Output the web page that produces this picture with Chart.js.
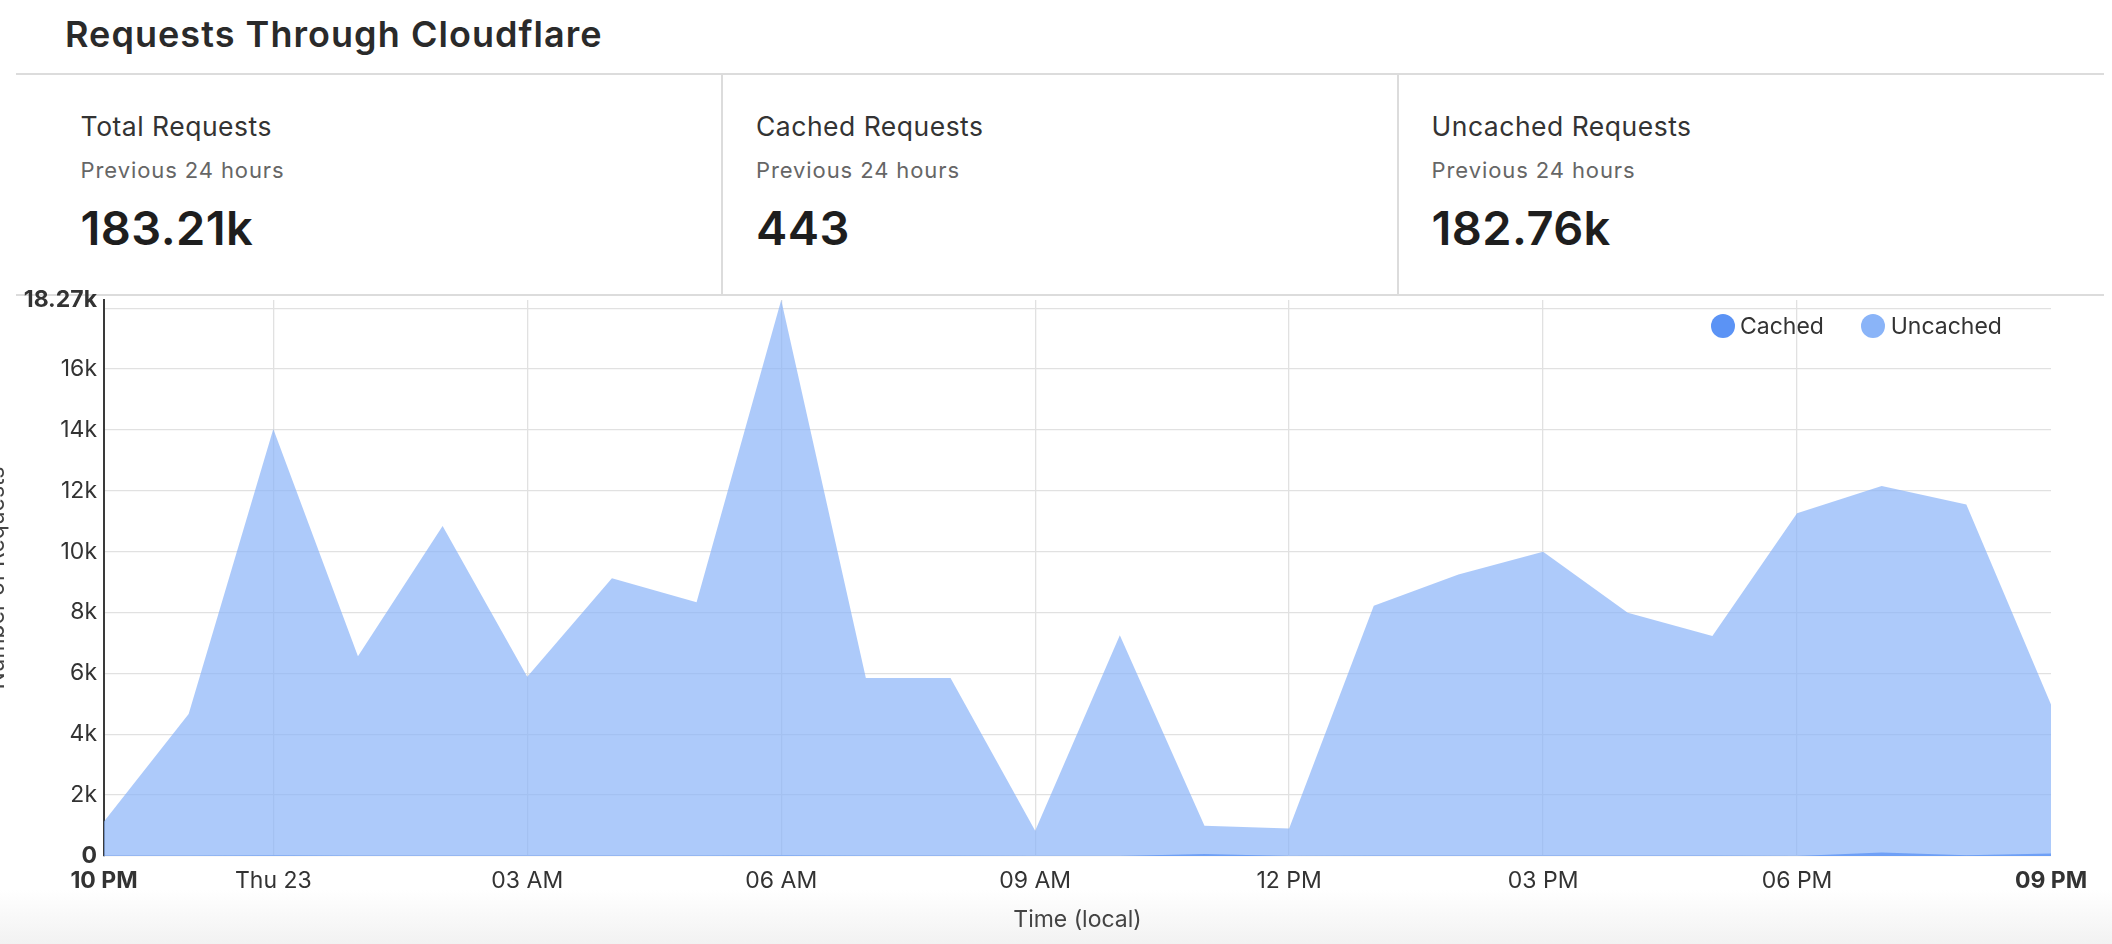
<!DOCTYPE html>
<html>
<head>
<meta charset="utf-8">
<script src="https://cdn.jsdelivr.net/npm/chart.js@4.4.1/dist/chart.umd.min.js"></script>
<style>
  html, body { margin:0; padding:0; width:2112px; height:944px; overflow:hidden; background:#fff; font-family:Inter, "Noto Sans", sans-serif; }
  .abs { position:absolute; white-space:nowrap; line-height:1; }
  .hline { position:absolute; left:16px; width:2088px; height:2px; background:#dcdcdc; }
  .vline { position:absolute; top:75px; width:2px; height:219px; background:#dcdcdc; }
  #title { left:65px; top:16px; font-size:36px; font-weight:600; letter-spacing:1.05px; color:#2a2a2a; }
  .slabel { top:113px; font-size:26.5px; letter-spacing:0.5px; color:#333; }
  .ssub { top:158.7px; font-size:22px; letter-spacing:0.9px; color:#666; }
  .sval { top:203.6px; font-size:47px; font-weight:600; letter-spacing:0.4px; color:#1e1e1e; }
  #fade { position:absolute; left:0; top:890px; width:2112px; height:54px; background:linear-gradient(to bottom, rgba(243,243,243,0), #f2f2f2); }
  #chartWrap { position:absolute; left:-21px; top:250px; width:2133px; height:694px; }
  .lgdot { position:absolute; width:24px; height:24px; border-radius:50%; top:313.7px; }
  .lgtxt { position:absolute; top:315px; font-size:23px; color:#333; line-height:1; }
</style>
</head>
<body>
<div id="fade"></div>
<div id="title" class="abs">Requests Through Cloudflare</div>
<div class="hline" style="top:73px"></div>
<div class="hline" style="top:294px"></div>
<div class="vline" style="left:721px"></div>
<div class="vline" style="left:1397px"></div>
<div id="stats"></div>
<div id="chartWrap"><canvas id="c" width="2133" height="694" style="width:2133px;height:694px"></canvas></div>
<div id="legend"></div>
<script>
// ---- data ----
const hours = ['10 PM','11 PM','Thu 23','01 AM','02 AM','03 AM','04 AM','05 AM','06 AM','07 AM','08 AM','09 AM',
               '10 AM','11 AM','12 PM','01 PM','02 PM','03 PM','04 PM','05 PM','06 PM','07 PM','08 PM','09 PM'];
const shownTicks = ['10 PM','Thu 23','03 AM','06 AM','09 AM','12 PM','03 PM','06 PM','09 PM'];
const uncached = [1130,4670,14030,6560,10840,5890,9130,8340,18270,5850,5850,830,
                  7250,990,900,8220,9250,10000,7990,7230,11260,12160,11550,4980];
const cached = [6,10,14,8,12,6,9,11,16,7,6,3,
                0,64,0,8,10,12,9,6,0,112,28,86];
const yTicks = [0,2000,4000,6000,8000,10000,12000,14000,16000,18000,18270];
const yHiddenLabels = [18000];
const statLabels = ['Total Requests','Cached Requests','Uncached Requests'];
const statSubs = ['Previous 24 hours','Previous 24 hours','Previous 24 hours'];
const statValues = ['183.21k','443','182.76k'];
const seriesNames = ['Cached','Uncached'];

// ---- styles ----
const colCached = 'rgb(91,147,245)';
const colUncached = 'rgb(138,180,248)';
const fillCached = 'rgba(91,147,245,0.75)';
const fillUncached = 'rgba(138,180,248,0.7)';
const statX = [80.6, 756, 1431.6];
const FONT = 'Inter';

// stats panel
const stats = document.getElementById('stats');
statLabels.forEach((l, i) => {
  const a = document.createElement('div'); a.className = 'abs slabel'; a.style.left = statX[i]+'px'; a.textContent = l; stats.appendChild(a);
  const b = document.createElement('div'); b.className = 'abs ssub'; b.style.left = statX[i]+'px'; b.textContent = statSubs[i]; stats.appendChild(b);
  const c = document.createElement('div'); c.className = 'abs sval'; c.style.left = statX[i]+'px'; c.textContent = statValues[i]; stats.appendChild(c);
});

// legend
const lg = document.getElementById('legend');
const lgDotX = [1711.3, 1861.3];
const lgTxtX = [1740, 1890.7];
const lgCols = [colCached, colUncached];
seriesNames.forEach((n, i) => {
  const d = document.createElement('div'); d.className = 'lgdot'; d.style.left = lgDotX[i]+'px'; d.style.background = lgCols[i]; lg.appendChild(d);
  const t = document.createElement('div'); t.className = 'lgtxt'; t.style.left = lgTxtX[i]+'px'; t.textContent = n; lg.appendChild(t);
});

const lastX = hours.length - 1;
const fmtK = v => v === 0 ? '0' : (v/1000) + 'k';

new Chart(document.getElementById('c'), {
  type: 'line',
  data: {
    labels: hours,
    datasets: [
      { label: seriesNames[0], data: cached, backgroundColor: fillCached, borderColor: colCached, borderWidth: 0, pointRadius: 0, fill: 'origin', tension: 0 },
      { label: seriesNames[1], data: uncached, backgroundColor: fillUncached, borderColor: colUncached, borderWidth: 0, pointRadius: 0, fill: 'origin', tension: 0 }
    ]
  },
  options: {
    responsive: false,
    animation: false,
    devicePixelRatio: 1,
    layout: { padding: { top: 50, right: 61, bottom: 0, left: 0 } },
    plugins: { legend: { display: false }, tooltip: { enabled: false } },
    scales: {
      x: {
        type: 'category',
        afterFit: s => { s.height = 88; },
        border: { display: false },
        grid: {
          drawTicks: false,
          lineWidth: 1.3,
          color: ctx => {
            const i = ctx.index;
            return (i > 0 && i < lastX && shownTicks.includes(hours[i])) ? '#e1e1e1' : 'rgba(0,0,0,0)';
          }
        },
        ticks: {
          autoSkip: false, maxRotation: 0, minRotation: 0, padding: 11, color: '#333',
          font: ctx => ({ family: FONT, size: 23, weight: (ctx.index === 0 || ctx.index === lastX) ? 'bold' : 'normal' }),
          callback: (v, i) => shownTicks.includes(hours[i]) ? hours[i] : ''
        },
        title: { display: true, text: 'Time (local)', color: '#444', font: { family: FONT, size: 23 }, padding: { top: 4, bottom: 10 } }
      },
      y: {
        min: 0, max: yTicks[yTicks.length - 1],
        afterFit: s => { s.width = 125; },
        afterBuildTicks: s => { s.ticks = yTicks.map(v => ({ value: v })); },
        border: { display: true, color: '#3a3a3a', width: 2 },
        grid: {
          drawTicks: false,
          lineWidth: 1.3,
          color: ctx => (ctx.tick && ctx.tick.value === yTicks[yTicks.length - 1]) ? 'rgba(0,0,0,0)' : '#e1e1e1'
        },
        ticks: {
          padding: 7, color: '#333',
          font: ctx => ({ family: FONT, size: 23, weight: (ctx.tick && (ctx.tick.value === 0 || ctx.tick.value === yTicks[yTicks.length - 1])) ? 'bold' : 'normal' }),
          callback: v => yHiddenLabels.includes(v) ? '' : fmtK(v)
        },
        title: { display: true, text: 'Number of Requests', color: '#444', font: { family: FONT, size: 23 }, padding: { top: 4, bottom: 4 } }
      }
    }
  }
});
</script>
</body>
</html>
